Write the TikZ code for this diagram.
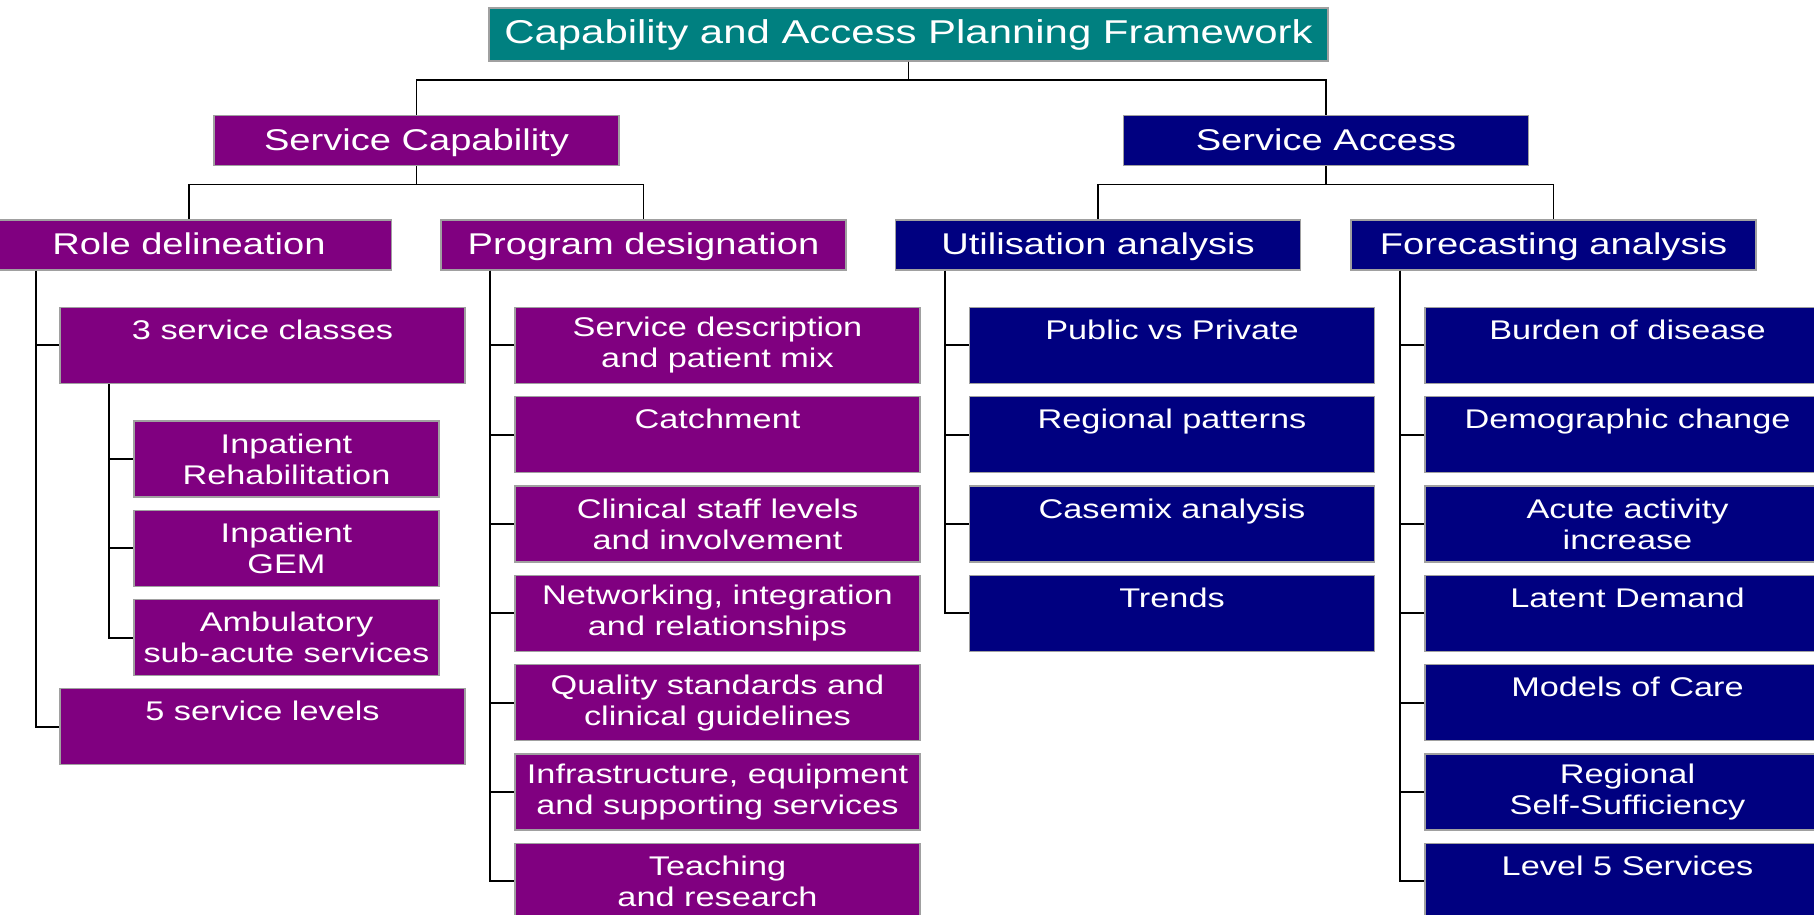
\documentclass[tikz,border=0pt]{standalone}
\usepackage{fontspec}
\setmainfont{Liberation Sans}[FakeStretch=1.27]
\definecolor{frameteal}{RGB}{0,128,128}
\definecolor{cappurple}{RGB}{128,0,128}
\definecolor{accnavy}{RGB}{0,0,128}
\definecolor{edgegrey}{RGB}{160,160,160}
\tikzset{
  box/.style={draw=edgegrey, line width=0.75pt, text=white, inner sep=0pt, align=center},
  headbox/.style={box, fill=frameteal, minimum width=419.5pt, minimum height=26.5pt, text height=11.8pt, text depth=2.8pt, font=\fontsize{16.5}{19}\selectfont},
  mainbox/.style={box, minimum width=202.5pt, minimum height=25pt, text height=10.7pt, text depth=1.2pt, font=\fontsize{15}{18}\selectfont},
  itembox/.style={box, minimum width=202.5pt, minimum height=38pt, font=\fontsize{13.5}{15.5}\selectfont},
  subbox/.style={itembox, minimum width=152.5pt},
  link/.style={line width=0.9pt}
}
\begin{document}
\begin{tikzpicture}[x=0.5pt, y=-0.5pt]
                \clip (0,0) rectangle (1814,915);
                \node[headbox] (frame) at (908.5,34.5) {Capability and Access Planning Framework};
                \node[mainbox, fill=cappurple] (cap) at (416.5,140.5) {Service Capability};
                \node[mainbox, fill=accnavy] (acc) at (1326,140.5) {Service Access};
                \node[mainbox, fill=cappurple] (role) at (189,245) {Role delineation};
                \node[mainbox, fill=cappurple] (prog) at (643.5,245) {Program designation};
                \node[mainbox, fill=accnavy] (util) at (1098,245) {Utilisation analysis};
                \node[mainbox, fill=accnavy] (fcst) at (1553.5,245) {Forecasting analysis};
                % role delineation
                \node[itembox, fill=cappurple] (role1) at (262.5,345.3) {3 service classes\\\mbox{}};
                \node[subbox, fill=cappurple] (cls1) at (286.5,459) {Inpatient\\Rehabilitation};
                \node[subbox, fill=cappurple] (cls2) at (286.5,548.3) {Inpatient\\GEM};
                \node[subbox, fill=cappurple] (cls3) at (286.5,637.6) {Ambulatory\\sub-acute services};
                \node[itembox, fill=cappurple] (role2) at (262.5,726.7) {5 service levels\\\mbox{}};
                % program designation
                \node[itembox, fill=cappurple] (prog1) at (717.5,345.3) {Service description\\and patient mix};
                \node[itembox, fill=cappurple] (prog2) at (717.5,434.7) {Catchment\\\mbox{}};
                \node[itembox, fill=cappurple] (prog3) at (717.5,524) {Clinical staff levels\\and involvement};
                \node[itembox, fill=cappurple] (prog4) at (717.5,613.3) {Networking, integration\\and relationships};
                \node[itembox, fill=cappurple] (prog5) at (717.5,702.7) {Quality standards and\\clinical guidelines};
                \node[itembox, fill=cappurple] (prog6) at (717.5,792) {Infrastructure, equipment\\and supporting services};
                \node[itembox, fill=cappurple] (prog7) at (717.5,881.3) {Teaching\\and research};
                % utilisation analysis
                \node[itembox, fill=accnavy] (util1) at (1172,345.3) {Public vs Private\\\mbox{}};
                \node[itembox, fill=accnavy] (util2) at (1172,434.7) {Regional patterns\\\mbox{}};
                \node[itembox, fill=accnavy] (util3) at (1172,524) {Casemix analysis\\\mbox{}};
                \node[itembox, fill=accnavy] (util4) at (1172,613.3) {Trends\\\mbox{}};
                % forecasting analysis
                \node[itembox, fill=accnavy] (fcst1) at (1627.5,345.3) {Burden of disease\\\mbox{}};
                \node[itembox, fill=accnavy] (fcst2) at (1627.5,434.7) {Demographic change\\\mbox{}};
                \node[itembox, fill=accnavy] (fcst3) at (1627.5,524) {Acute activity\\increase};
                \node[itembox, fill=accnavy] (fcst4) at (1627.5,613.3) {Latent Demand\\\mbox{}};
                \node[itembox, fill=accnavy] (fcst5) at (1627.5,702.7) {Models of Care\\\mbox{}};
                \node[itembox, fill=accnavy] (fcst6) at (1627.5,792) {Regional\\Self-Sufficiency};
                \node[itembox, fill=accnavy] (fcst7) at (1627.5,881.3) {Level 5 Services\\\mbox{}};
                \draw[link] (frame.south) -- ++(0,18) -| (cap.north);
                \draw[link] (frame.south) -- ++(0,18) -| (acc.north);
                \draw[link] (cap.south) -- ++(0,18.2) -| (role.north);
                \draw[link] (cap.south) -- ++(0,18.2) -| (prog.north);
                \draw[link] (acc.south) -- ++(0,18.2) -| (util.north);
                \draw[link] (acc.south) -- ++(0,18.2) -| (fcst.north);
                \foreach \up/\down in {role/role1, role/role2, role1/cls1, role1/cls2, role1/cls3,
                    prog/prog1, prog/prog2, prog/prog3, prog/prog4, prog/prog5, prog/prog6, prog/prog7,
                    util/util1, util/util2, util/util3, util/util4,
                    fcst/fcst1, fcst/fcst2, fcst/fcst3, fcst/fcst4, fcst/fcst5, fcst/fcst6, fcst/fcst7}
                    \draw[link] ([xshift=25pt]\up.south west) |- (\down.west);
            \end{tikzpicture}
\end{document}
